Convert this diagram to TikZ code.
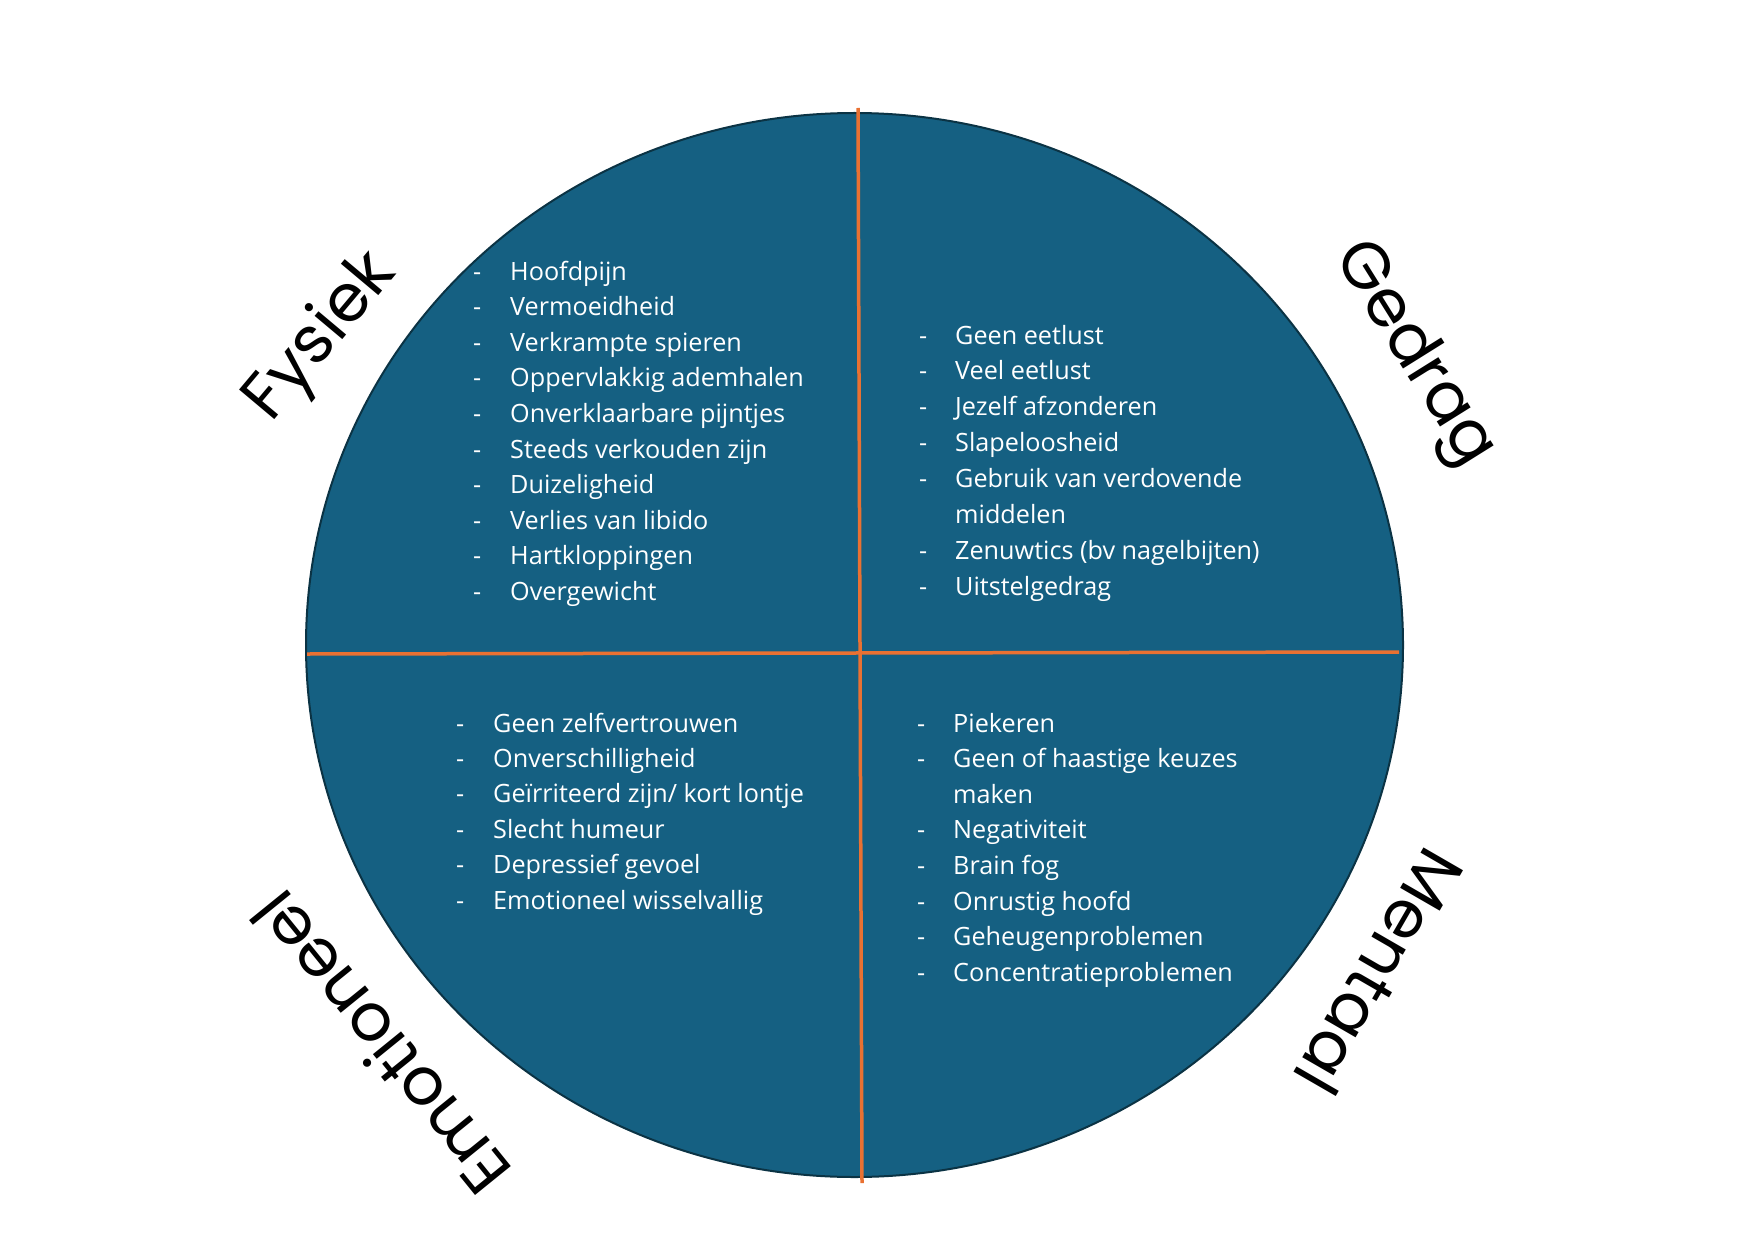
\documentclass[tikz,border=0pt]{standalone}
\usepackage{fontspec}
\usetikzlibrary{shapes.geometric}
\setmainfont{Open Sans}
\newfontfamily\labelfont{Poppins}
\definecolor{fillblue}{HTML}{156082}
\definecolor{edgeblue}{HTML}{0B3344}
\definecolor{divorange}{HTML}{E97132}
\tikzset{
  listitem/.style={anchor=base west, inner sep=0pt, text=white, font=\fontsize{25.2}{30}\selectfont},
  bigword/.style={inner sep=0pt, text=black, font=\labelfont\fontsize{66}{80}\selectfont},
  divider/.style={draw=divorange, line width=3.5pt},
}
\begin{document}
\begin{tikzpicture}[x=1pt,y=-1pt]
\useasboundingbox (0,0) rectangle (1755,1241);
% circle
\node[ellipse, draw=edgeblue, line width=2pt, fill=fillblue, minimum width=1097pt, minimum height=1064pt, inner sep=0pt] (disk) at (854.5,645) {};
% dividers
\coordinate (vtop) at (858,108);
\coordinate (vbot) at (862,1183);
\coordinate (hleft) at (307,654);
\coordinate (hright) at (1399,652);
\draw[divider] (vtop) -- (vbot);
\draw[divider] (hleft) -- (hright);
% Fysiek list
\foreach \t [count=\i from 0] in {Hoofdpijn,Vermoeidheid,Verkrampte spieren,Oppervlakkig ademhalen,Onverklaarbare pijntjes,Steeds verkouden zijn,Duizeligheid,Verlies van libido,Hartkloppingen,Overgewicht}{
  \node[listitem] (fd\i) at (473,{280+35.6*\i}) {-};
  \node[listitem] (ft\i) at (510,{280+35.6*\i}) {\t};
}
% Gedrag list
\foreach \k/\t in {0/Geen eetlust,1/Veel eetlust,2/Jezelf afzonderen,3/Slapeloosheid,4/Gebruik van verdovende,6/Zenuwtics (bv nagelbijten),7/Uitstelgedrag}{
  \node[listitem] (gd\k) at (919,{344+35.9*\k}) {-};
  \node[listitem] (gt\k) at (955,{344+35.9*\k}) {\t};
}
\node[listitem] (gt5) at (955,{344+35.9*5}) {middelen};
% Emotioneel list
\foreach \t [count=\i from 0] in {Geen zelfvertrouwen,Onverschilligheid,Geïrriteerd zijn/ kort lontje,Slecht humeur,Depressief gevoel,Emotioneel wisselvallig}{
  \node[listitem] (ed\i) at (456,{732+35.4*\i}) {-};
  \node[listitem] (et\i) at (493,{732+35.4*\i}) {\t};
}
% Mentaal list
\foreach \k/\t in {0/Piekeren,1/Geen of haastige keuzes,3/Negativiteit,4/Brain fog,5/Onrustig hoofd,6/Geheugenproblemen,7/Concentratieproblemen}{
  \node[listitem] (md\k) at (917,{732+35.6*\k}) {-};
  \node[listitem] (mt\k) at (953,{732+35.6*\k}) {\t};
}
\node[listitem] (mt2) at (953,{732+35.6*2}) {maken};
% quadrant labels
\node[bigword, rotate=50] (fysiek) at (322,338) {Fysiek};
\node[bigword, rotate=-58] (gedrag) at (1413,355) {Gedrag};
\node[bigword, rotate=-120] (mentaal) at (1380,972) {Mentaal};
\node[bigword, rotate=129] (emotioneel) at (380,1044) {Emotioneel};
\end{tikzpicture}
\end{document}
